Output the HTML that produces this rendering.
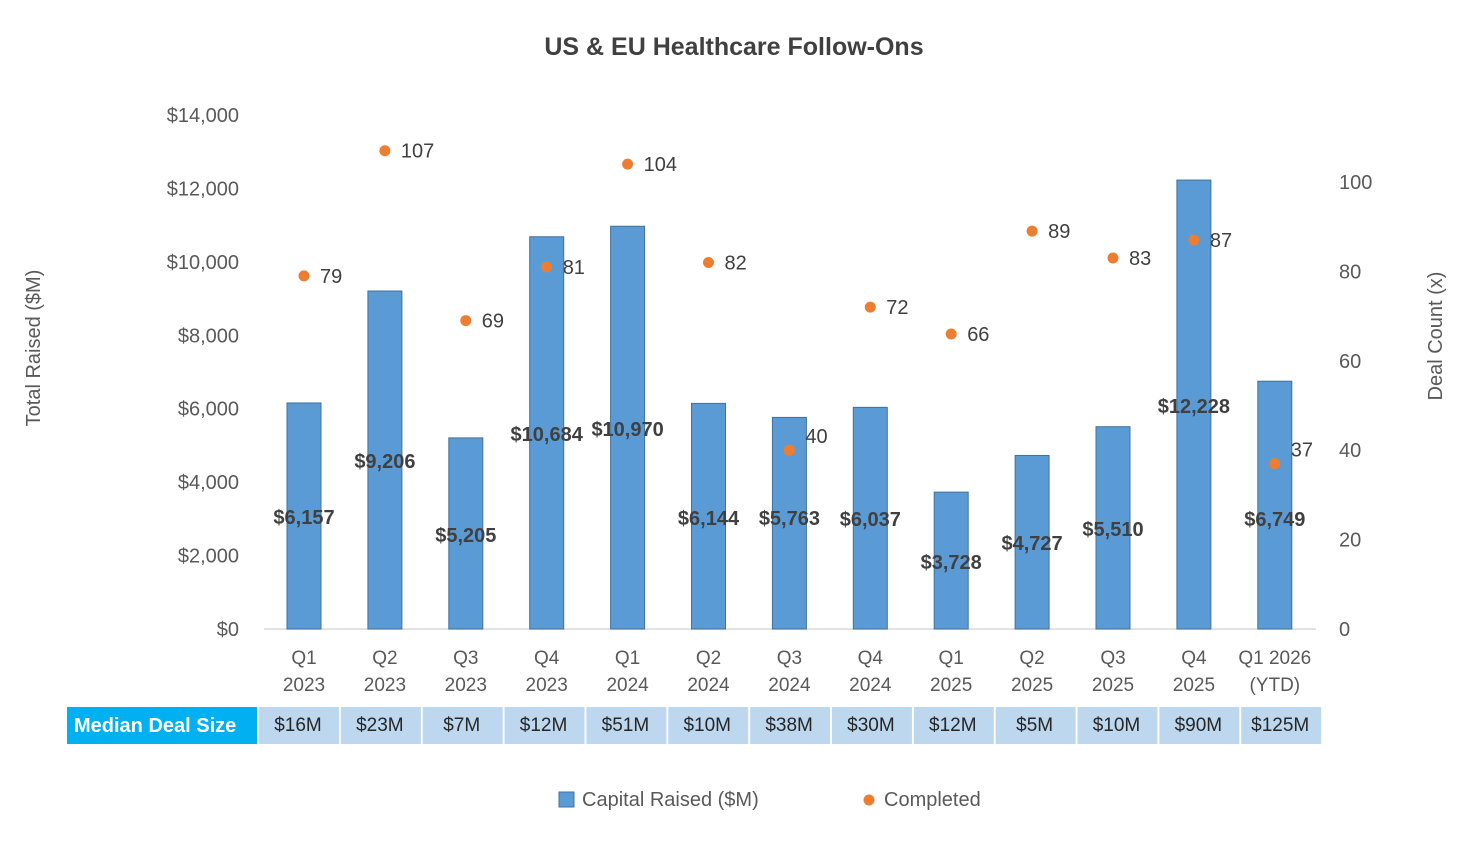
<!DOCTYPE html>
<html><head><meta charset="utf-8"><style>
body{margin:0;background:#fff;font-family:"Liberation Sans",sans-serif;}
svg text{font-family:"Liberation Sans",sans-serif;}
</style></head><body>
<svg id="c" width="1476" height="846">
<text x="734" y="55" text-anchor="middle" font-size="25" font-weight="bold" fill="#404040">US &amp; EU Healthcare Follow-Ons</text>
<text transform="translate(40,348) rotate(-90)" text-anchor="middle" font-size="20" fill="#595959">Total Raised ($M)</text>
<text transform="translate(1442,336) rotate(-90)" text-anchor="middle" font-size="20" fill="#595959">Deal Count (x)</text>
<g id="g"></g>
</svg>
<script>
const categories=["Q1|2023","Q2|2023","Q3|2023","Q4|2023","Q1|2024","Q2|2024","Q3|2024","Q4|2024","Q1|2025","Q2|2025","Q3|2025","Q4|2025","Q1 2026|(YTD)"];
const capital=[6157,9206,5205,10684,10970,6144,5763,6037,3728,4727,5510,12228,6749];
const completed=[79,107,69,81,104,82,40,72,66,89,83,87,37];
const medians=["$16M","$23M","$7M","$12M","$51M","$10M","$38M","$30M","$12M","$5M","$10M","$90M","$125M"];
const leftTicks=[0,2000,4000,6000,8000,10000,12000,14000];
const rightTicks=[0,20,40,60,80,100];
const g=document.getElementById('g');const NS="http://www.w3.org/2000/svg";
function mk(t,a,p){const e=document.createElementNS(NS,t);for(const k in a)e.setAttribute(k,a[k]);(p||g).appendChild(e);return e;}
const y0=629;const yL=v=>y0-v*(514/14000);const yR=v=>y0-v*4.47;
const xC=i=>304+i*80.9;
leftTicks.forEach(v=>{const t=mk('text',{x:239,y:yL(v)+7,'text-anchor':'end','font-size':20,fill:'#595959'});t.textContent='$'+v.toLocaleString('en-US');

});
rightTicks.forEach(v=>{const t=mk('text',{x:1339,y:yR(v)+7,'font-size':20,fill:'#595959'});t.textContent=v;

});
const ax=mk('line',{x1:264,x2:1316,y1:y0,y2:y0,stroke:'#d9d9d9','stroke-width':1.5});


const labY=[517,461,535,434,429,518,518,519,562,543,529,406,519];
categories.forEach((c,i)=>{const x=xC(i);
const b=mk('rect',{x:x-17,y:yL(capital[i]),width:34,height:y0-yL(capital[i]),fill:'#5B9BD5',stroke:'#41719C','stroke-width':1});


const parts=c.split('|');
parts.forEach((p,k)=>{const t=mk('text',{x:x,y:664+k*27,'text-anchor':'middle','font-size':19,fill:'#595959'});t.textContent=p;

});
const lb=mk('text',{x:x,y:labY[i]+7,'text-anchor':'middle','font-size':20,'font-weight':'bold',fill:'#404040'});lb.textContent='$'+capital[i].toLocaleString('en-US');


const cy=yR(completed[i]);
const d=mk('circle',{cx:x,cy:cy,r:5.5,fill:'#ED7D31'});


const up=(i===6||i===12)?-14:0;
const dt=mk('text',{x:x+16,y:cy+7+up,'font-size':20,fill:'#404040'});dt.textContent=completed[i];


const cx0=259+i*81.85;
const cell=mk('rect',{x:cx0,y:707,width:80,height:37,fill:'#BDD7EE'});


const ct=mk('text',{x:cx0+39,y:731,'text-anchor':'middle','font-size':19,fill:'#262626'});ct.textContent=medians[i];


});
const hl=mk('rect',{x:67,y:707,width:190,height:37,fill:'#00B0F0'});


const ht=mk('text',{x:74,y:732,'font-size':20,'font-weight':'bold',fill:'#fff'});ht.textContent='Median Deal Size';


const l1=mk('rect',{x:559,y:792,width:15,height:15,fill:'#5B9BD5',stroke:'#41719C'});


const l1t=mk('text',{x:582,y:806,'font-size':20,fill:'#595959'});l1t.textContent='Capital Raised ($M)';


const l2=mk('circle',{cx:869,cy:800,r:5.5,fill:'#ED7D31'});


const l2t=mk('text',{x:884,y:806,'font-size':20,fill:'#595959'});l2t.textContent='Completed';


</script>
</body></html>
